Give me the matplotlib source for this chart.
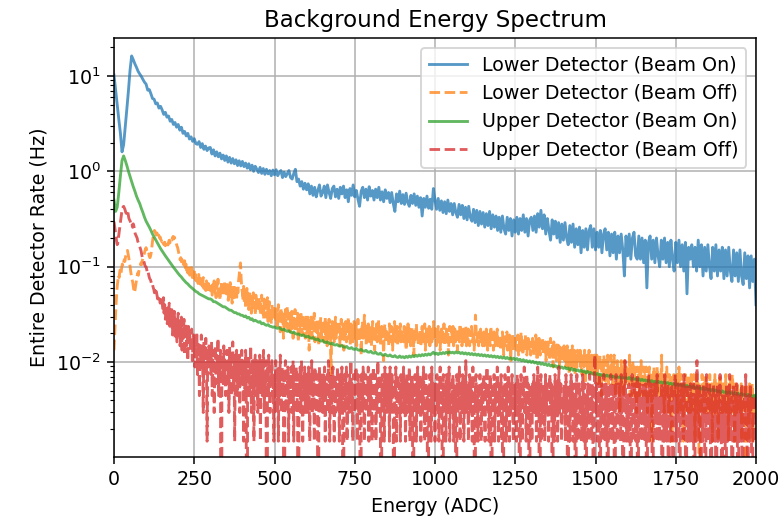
import numpy as np
import matplotlib
matplotlib.use("Agg")
import matplotlib.pyplot as plt

# Beam-on spectra are sampled every 5 ADC channels, beam-off spectra every 2
energy = np.arange(0, 2001, 5)
energy_off = np.arange(0, 2001, 2)

# Lower detector, beam on: rate in Hz
lower_on = [
    10.2, 7.1, 5.0, 3.5, 2.5, 1.6, 1.9, 2.9, 4.5, 7.0, 11.5, 16.2, 14.8, 13.4, 12.3, 11.2, 10.5, 9.9, 9.2, 8.6,
    8.2, 7.1, 7.2, 6.5, 5.8, 5.7, 5.1, 5.2, 4.6, 4.8, 4.4, 3.95, 4.15, 3.7, 3.8, 3.35, 3.5, 3.1, 3.25, 2.9,
    3.1, 2.7, 2.9, 2.5, 2.62, 2.35, 2.5, 2.18, 2.3, 2.06, 2.2, 1.95, 1.92, 2.05, 1.78, 1.95, 1.7, 1.84, 1.65, 1.76,
    1.78, 1.52, 1.68, 1.45, 1.6, 1.42, 1.55, 1.35, 1.48, 1.3, 1.45, 1.25, 1.4, 1.22, 1.36, 1.2, 1.32, 1.15, 1.29, 1.14,
    1.27, 1.12, 1.22, 1.08, 1.2, 1.04, 1.16, 1.0, 1.13, 1.05, 0.97, 1.1, 0.95, 1.07, 0.93, 1.05, 0.94, 1.02, 0.9, 1.03,
    0.92, 1.04, 0.9, 0.97, 1.02, 0.86, 0.98, 0.88, 0.95, 1.02, 0.86, 0.83, 0.95, 1.05, 0.78, 0.83, 0.7, 0.78, 0.65, 0.75,
    0.64, 0.74, 0.58, 0.7, 0.56, 0.68, 0.54, 0.63, 0.72, 0.55, 0.6, 0.7, 0.53, 0.72, 0.6, 0.52, 0.66, 0.7, 0.54, 0.65,
    0.52, 0.68, 0.58, 0.7, 0.53, 0.64, 0.48, 0.66, 0.56, 0.72, 0.54, 0.63, 0.51, 0.43, 0.62, 0.68, 0.53, 0.65, 0.5, 0.69,
    0.55, 0.63, 0.5, 0.65, 0.53, 0.68, 0.5, 0.61, 0.48, 0.64, 0.52, 0.6, 0.47, 0.6, 0.46, 0.38, 0.58, 0.48, 0.62, 0.46,
    0.57, 0.45, 0.59, 0.47, 0.43, 0.56, 0.46, 0.58, 0.44, 0.55, 0.42, 0.53, 0.34, 0.52, 0.42, 0.55, 0.41, 0.51, 0.4, 0.66,
    0.5, 0.4, 0.52, 0.39, 0.49, 0.37, 0.48, 0.36, 0.5, 0.38, 0.46, 0.35, 0.46, 0.37, 0.33, 0.45, 0.35, 0.44, 0.32, 0.42,
    0.31, 0.43, 0.33, 0.3, 0.4, 0.29, 0.39, 0.27, 0.38, 0.28, 0.37, 0.26, 0.36, 0.27, 0.38, 0.25, 0.35, 0.26, 0.34, 0.24,
    0.33, 0.23, 0.34, 0.25, 0.22, 0.33, 0.24, 0.32, 0.21, 0.31, 0.23, 0.33, 0.22, 0.32, 0.24, 0.35, 0.23, 0.32, 0.21, 0.31,
    0.33, 0.24, 0.34, 0.23, 0.36, 0.26, 0.39, 0.25, 0.35, 0.22, 0.32, 0.24, 0.19, 0.31, 0.22, 0.3, 0.2, 0.29, 0.18, 0.28,
    0.19, 0.29, 0.2, 0.17, 0.27, 0.18, 0.28, 0.16, 0.25, 0.17, 0.26, 0.14, 0.24, 0.16, 0.25, 0.15, 0.24, 0.27, 0.16, 0.25,
    0.15, 0.23, 0.16, 0.24, 0.14, 0.22, 0.25, 0.15, 0.23, 0.13, 0.22, 0.14, 0.23, 0.12, 0.21, 0.14, 0.22, 0.15, 0.08, 0.21,
    0.13, 0.22, 0.12, 0.2, 0.23, 0.13, 0.12, 0.21, 0.12, 0.2, 0.11, 0.19, 0.06, 0.18, 0.21, 0.12, 0.19, 0.11, 0.2, 0.13,
    0.1, 0.19, 0.12, 0.2, 0.11, 0.18, 0.1, 0.19, 0.12, 0.09, 0.18, 0.11, 0.19, 0.1, 0.17, 0.09, 0.18, 0.052, 0.16, 0.12,
    0.17, 0.1, 0.16, 0.09, 0.19, 0.1, 0.17, 0.08, 0.16, 0.09, 0.17, 0.1, 0.075, 0.16, 0.09, 0.17, 0.08, 0.15, 0.09, 0.16,
    0.075, 0.15, 0.08, 0.16, 0.09, 0.07, 0.15, 0.08, 0.14, 0.07, 0.15, 0.08, 0.065, 0.14, 0.075, 0.13, 0.06, 0.13, 0.07, 0.12,
    0.04,
]

# Upper detector, beam on: rate in Hz
upper_on = [
    0.5, 0.38, 0.42, 0.6, 0.9, 1.3, 1.45, 1.3, 1.15, 1.0, 0.88, 0.78, 0.69, 0.62, 0.55, 0.5, 0.46, 0.41, 0.37, 0.33,
    0.3, 0.28, 0.26, 0.24, 0.22, 0.205, 0.19, 0.178, 0.166, 0.155, 0.146, 0.138, 0.13, 0.123, 0.116, 0.11, 0.104, 0.099, 0.094, 0.089,
    0.085, 0.081, 0.078, 0.074, 0.071, 0.068, 0.066, 0.063, 0.061, 0.059, 0.057, 0.055, 0.054, 0.052, 0.051, 0.05, 0.049, 0.048, 0.047, 0.046,
    0.046, 0.045, 0.043, 0.043, 0.042, 0.041, 0.04, 0.039, 0.038, 0.038, 0.037, 0.036, 0.035, 0.035, 0.034, 0.033, 0.033, 0.032, 0.032, 0.031,
    0.031, 0.03, 0.0305, 0.029, 0.0295, 0.028, 0.0285, 0.027, 0.0275, 0.0268, 0.0262, 0.0266, 0.0252, 0.0256, 0.0248, 0.0243, 0.0247, 0.0238, 0.0236, 0.0232,
    0.0234, 0.0228, 0.0226, 0.023, 0.0222, 0.0218, 0.0221, 0.0214, 0.021, 0.0213, 0.0206, 0.0203, 0.0207, 0.0199, 0.0196, 0.0198, 0.0192, 0.019, 0.0193, 0.0186,
    0.0184, 0.0187, 0.018, 0.0178, 0.0181, 0.0174, 0.0172, 0.0175, 0.0168, 0.0166, 0.0169, 0.0162, 0.016, 0.0163, 0.0157, 0.0155, 0.0158, 0.0152, 0.0151, 0.0153,
    0.0148, 0.0147, 0.015, 0.0144, 0.0143, 0.0146, 0.014, 0.0139, 0.0142, 0.0137, 0.0136, 0.0139, 0.0134, 0.0133, 0.0136, 0.0131, 0.013, 0.0133, 0.0128, 0.0127,
    0.013, 0.0125, 0.0124, 0.0127, 0.0122, 0.0121, 0.0124, 0.0119, 0.0118, 0.0121, 0.0117, 0.0116, 0.0119, 0.0115, 0.0114, 0.0117, 0.0113, 0.0112, 0.0116, 0.0112,
    0.0114, 0.0111, 0.0115, 0.0112, 0.0116, 0.0113, 0.0117, 0.0114, 0.0118, 0.0115, 0.0119, 0.0116, 0.012, 0.0117, 0.0121, 0.0118, 0.0122, 0.0119, 0.0123, 0.0127,
    0.0121, 0.0124, 0.012, 0.0125, 0.0122, 0.0126, 0.0123, 0.0127, 0.0124, 0.0128, 0.0125, 0.0127, 0.0124, 0.0128, 0.0125, 0.0127, 0.0123, 0.0126, 0.0122, 0.0125,
    0.0121, 0.0124, 0.012, 0.0123, 0.0119, 0.0122, 0.0118, 0.0121, 0.0117, 0.012, 0.0116, 0.0119, 0.0115, 0.0118, 0.0114, 0.0117, 0.0113, 0.0116, 0.0112, 0.0115,
    0.0111, 0.0114, 0.011, 0.0113, 0.0109, 0.0112, 0.0108, 0.0111, 0.0107, 0.011, 0.0106, 0.0109, 0.0105, 0.0107, 0.0103, 0.0106, 0.0102, 0.0104, 0.01, 0.0103,
    0.0099, 0.0102, 0.0098, 0.01, 0.0096, 0.0099, 0.0095, 0.0097, 0.0094, 0.0096, 0.0092, 0.0095, 0.0091, 0.0093, 0.009, 0.0092, 0.0088, 0.0091, 0.0087, 0.0089,
    0.0086, 0.0088, 0.0085, 0.0087, 0.0083, 0.0086, 0.0082, 0.0084, 0.0081, 0.0083, 0.008, 0.0082, 0.0079, 0.0081, 0.0077, 0.008, 0.0076, 0.0078, 0.0075, 0.0077,
    0.0074, 0.0076, 0.0073, 0.0075, 0.0072, 0.0074, 0.0071, 0.0073, 0.0071, 0.0072, 0.007, 0.0071, 0.0069, 0.007, 0.0069, 0.007, 0.0068, 0.0069, 0.0068, 0.0069,
    0.0067, 0.0069, 0.0066, 0.0068, 0.0066, 0.0067, 0.0065, 0.0067, 0.0064, 0.0066, 0.0064, 0.0065, 0.0063, 0.0065, 0.0062, 0.0064, 0.0062, 0.0063, 0.0061, 0.0063,
    0.0061, 0.0062, 0.006, 0.0062, 0.006, 0.0061, 0.0059, 0.006, 0.0058, 0.006, 0.0057, 0.0059, 0.0057, 0.0058, 0.0056, 0.0058, 0.0055, 0.0057, 0.0055, 0.0056,
    0.0054, 0.0056, 0.0053, 0.0055, 0.0053, 0.0054, 0.0052, 0.0054, 0.0051, 0.0053, 0.0051, 0.0052, 0.005, 0.0052, 0.005, 0.0051, 0.0049, 0.005, 0.0048, 0.005,
    0.0048, 0.0049, 0.0047, 0.0049, 0.0047, 0.0048, 0.0046, 0.0048, 0.0046, 0.0047, 0.0045, 0.0047, 0.0045, 0.0046, 0.0044, 0.0046, 0.0044, 0.0045, 0.0043, 0.0045,
    0.0043,
]

# Beam-off runs are stored as raw counts per channel
beam_off_livetime = 675.0  # seconds

lower_off_counts = [
    9, 13, 18, 26, 34, 42, 48, 55, 52, 60, 64, 58, 66, 72, 68, 75, 80, 77, 86, 90, 97, 100, 92, 84, 76,
    68, 60, 55, 50, 47, 42, 38, 36, 40, 45, 50, 54, 58, 55, 62, 66, 70, 74, 71, 78, 82, 88, 92, 98, 104,
    107, 100, 96, 90, 92, 87, 84, 88, 95, 110, 125, 140, 155, 162, 158, 150, 145, 152, 140, 148, 142, 135, 138, 130, 126,
    122, 128, 118, 115, 122, 112, 118, 125, 120, 114, 122, 128, 120, 126, 132, 128, 135, 140, 132, 138, 130, 125, 118, 112, 108,
    100, 92, 86, 80, 84, 76, 80, 72, 75, 70, 78, 66, 72, 62, 68, 58, 64, 70, 55, 62, 58, 66, 52, 60, 56,
    62, 50, 58, 48, 55, 52, 45, 56, 48, 53, 44, 50, 46, 42, 52, 40, 47, 44, 38, 48, 42, 36, 45, 40, 43,
    38, 46, 40, 34, 44, 38, 48, 36, 42, 32, 45, 39, 50, 35, 42, 30, 40, 46, 36, 43, 33, 40, 48, 37, 42,
    35, 44, 38, 30, 42, 36, 46, 33, 40, 28, 44, 37, 32, 41, 35, 39, 30, 43, 36, 48, 55, 66, 74, 52, 40,
    36, 30, 42, 28, 38, 25, 35, 40, 27, 33, 24, 38, 30, 35, 22, 32, 28, 36, 25, 31, 21, 34, 27, 30, 23,
    33, 26, 30, 21, 28, 34, 22, 27, 19, 31, 24, 28, 20, 26, 32, 18, 25, 29, 21, 24, 17, 27, 22, 19, 25,
    21, 26, 18, 24, 15, 22, 27, 19, 23, 14, 25, 20, 17, 23, 12, 21, 18, 24, 16, 20, 26, 15, 19, 22, 14,
    20, 15, 23, 18, 12, 21, 17, 24, 14, 19, 16, 22, 11, 18, 20, 14, 23, 16, 13, 19, 21, 15, 18, 12, 20,
    17, 13, 20, 15, 9, 18, 14, 21, 16, 12, 19, 15, 22, 11, 17, 14, 19, 13, 16, 10, 18, 15, 20, 12, 16,
    14, 18, 11, 16, 20, 13, 15, 10, 17, 14, 19, 12, 16, 5, 15, 18, 13, 17, 11, 15, 20, 12, 16, 14, 18,
    13, 16, 10, 15, 19, 12, 14, 17, 9, 15, 13, 18, 11, 16, 14, 20, 12, 15, 10, 17, 13, 16, 11, 14, 18,
    12, 15, 17, 10, 14, 19, 13, 11, 16, 14, 8, 15, 18, 12, 14, 21, 13, 16, 10, 15, 12, 17, 14, 11, 16,
    13, 10, 15, 18, 12, 14, 9, 16, 13, 17, 11, 14, 19, 12, 15, 10, 13, 16, 12, 14, 7, 15, 17, 11, 13,
    15, 12, 14, 10, 17, 13, 11, 16, 14, 9, 15, 12, 18, 13, 11, 14, 16, 10, 13, 15, 12, 17, 11, 14, 12,
    13, 11, 16, 12, 14, 9, 15, 13, 17, 11, 12, 15, 10, 14, 16, 12, 13, 8, 15, 11, 14, 17, 12, 13, 10,
    14, 12, 15, 10, 13, 16, 11, 14, 12, 17, 9, 13, 15, 11, 14, 12, 16, 10, 13, 15, 11, 14, 12, 18, 13,
    12, 15, 10, 13, 11, 16, 12, 14, 9, 13, 15, 11, 14, 12, 17, 10, 13, 12, 15, 11, 14, 8, 13, 16, 12,
    11, 14, 12, 16, 10, 13, 15, 11, 14, 12, 9, 15, 13, 11, 17, 12, 14, 10, 13, 15, 11, 14, 12, 16, 10,
    13, 11, 15, 12, 10, 14, 13, 16, 11, 12, 14, 9, 13, 21, 15, 11, 13, 12, 10, 14, 12, 15, 11, 13, 10,
    12, 14, 10, 13, 11, 15, 12, 9, 14, 11, 13, 10, 16, 12, 11, 13, 9, 14, 12, 10, 13, 11, 15, 10, 12,
    11, 13, 9, 12, 10, 14, 11, 8, 13, 10, 12, 11, 14, 9, 12, 10, 13, 11, 7, 12, 10, 13, 9, 11, 12,
    10, 12, 9, 11, 13, 8, 10, 12, 9, 14, 10, 11, 8, 12, 10, 9, 13, 11, 8, 10, 12, 9, 11, 10, 8,
    11, 9, 12, 10, 8, 11, 9, 13, 10, 7, 11, 9, 12, 10, 8, 11, 9, 10, 12, 8, 10, 9, 11, 7, 10,
    9, 11, 8, 10, 7, 12, 9, 8, 10, 6, 11, 9, 8, 10, 7, 9, 11, 8, 10, 6, 9, 8, 10, 7, 9,
    8, 10, 7, 9, 6, 8, 10, 7, 9, 5, 8, 7, 9, 6, 10, 8, 7, 9, 5, 8, 7, 6, 9, 7, 8,
    7, 9, 6, 8, 5, 7, 8, 6, 9, 4, 7, 6, 8, 5, 7, 9, 6, 7, 5, 8, 6, 7, 5, 8, 6,
    7, 5, 8, 6, 4, 7, 6, 8, 5, 3, 7, 6, 5, 8, 6, 4, 7, 5, 6, 8, 4, 6, 5, 7, 8,
    5, 7, 4, 6, 8, 5, 3, 6, 5, 7, 4, 6, 5, 2, 6, 7, 4, 5, 6, 3, 7, 5, 4, 6, 5,
    4, 6, 5, 8, 3, 5, 6, 4, 7, 5, 3, 6, 4, 5, 2, 6, 4, 5, 3, 6, 4, 7, 5, 3, 5,
    6, 4, 5, 3, 6, 4, 2, 5, 4, 6, 3, 5, 4, 1, 5, 3, 6, 4, 5, 3, 4, 6, 3, 5, 4,
    3, 5, 4, 8, 3, 5, 4, 2, 5, 3, 4, 6, 3, 4, 2, 5, 4, 3, 5, 1, 4, 3, 5, 4, 3,
    4, 3, 5, 2, 4, 6, 3, 4, 2, 5, 3, 4, 1, 4, 3, 5, 2, 4, 3, 5, 2, 3, 4, 2, 5,
    3, 4, 2, 5, 3, 1, 4, 3, 5, 2, 4, 3, 0, 4, 3, 2, 5, 3, 4, 2, 3, 5, 2, 4, 3,
    2, 4, 3, 5, 2, 3, 4, 1, 3, 4, 2, 5, 3, 2, 4, 3, 1, 4, 3, 5, 2, 3, 4, 2, 3,
    4, 2, 3, 5, 2, 4, 3, 1, 3, 4, 2, 5, 3, 5, 4, 2, 3, 1, 4, 3, 2, 4, 3, 2, 3,
    3, 2, 4, 1, 3, 2, 4, 3, 2, 0, 3, 4, 2, 3, 1, 4, 2, 3, 2, 4, 1, 3, 2, 3, 2,
    3,
]

upper_off_counts = [
    200, 180, 160, 140, 125, 115, 120, 135, 155, 175, 200, 225, 250, 270, 285, 290, 280, 270, 255, 245, 260, 265, 240, 220, 210,
    205, 195, 180, 185, 175, 190, 180, 160, 150, 145, 140, 135, 125, 120, 112, 110, 105, 100, 92, 85, 82, 78, 75, 70, 68,
    67, 63, 58, 60, 56, 52, 50, 49, 46, 43, 44, 41, 39, 36, 38, 35, 37, 34, 31, 33, 30, 31, 28, 33, 30,
    29, 24, 32, 22, 27, 19, 26, 23, 17, 25, 20, 28, 16, 22, 18, 24, 13, 21, 16, 23, 12, 19, 15, 11, 18,
    22, 14, 18, 10, 16, 20, 9, 15, 12, 19, 8, 14, 17, 10, 13, 7, 16, 11, 14, 9, 12, 15, 7, 11, 13,
    10, 6, 12, 8, 14, 5, 9, 11, 3, 10, 7, 13, 6, 8, 2, 11, 9, 5, 12, 7, 1, 9, 6, 10, 8,
    8, 5, 11, 3, 7, 9, 2, 6, 10, 4, 8, 6, 12, 3, 7, 5, 9, 0, 6, 8, 4, 10, 5, 7, 3,
    6, 9, 4, 7, 2, 10, 5, 8, 3, 6, 11, 4, 7, 1, 8, 5, 9, 3, 6, 4, 8, 2, 7, 5, 9,
    4, 7, 1, 6, 3, 9, 5, 0, 7, 4, 8, 3, 6, 10, 2, 5, 7, 4, 1, 6, 8, 3, 5, 7, 2,
    6, 4, 8, 1, 5, 7, 3, 6, 9, 2, 5, 4, 7, 0, 6, 3, 8, 5, 2, 6, 4, 7, 3, 5, 1,
    5, 3, 7, 2, 4, 6, 1, 5, 3, 8, 4, 2, 6, 3, 5, 0, 4, 7, 2, 5, 3, 6, 1, 4, 5,
    3, 6, 2, 4, 7, 1, 5, 3, 4, 6, 2, 5, 0, 4, 3, 6, 2, 7, 4, 1, 5, 3, 6, 2, 4,
    5, 2, 4, 6, 3, 1, 5, 4, 7, 2, 3, 5, 1, 6, 4, 2, 5, 3, 0, 4, 6, 2, 5, 3, 4,
    2, 5, 3, 6, 1, 4, 3, 5, 2, 7, 4, 1, 3, 5, 2, 4, 6, 3, 1, 5, 2, 4, 3, 6, 2,
    4, 1, 5, 3, 2, 6, 4, 0, 3, 5, 2, 4, 6, 1, 3, 4, 2, 5, 3, 7, 2, 4, 1, 5, 3,
    2, 4, 6, 3, 1, 5, 2, 4, 3, 0, 5, 3, 2, 6, 4, 1, 3, 5, 2, 4, 3, 6, 1, 4, 2,
    5, 3, 1, 4, 6, 2, 3, 5, 1, 4, 2, 7, 3, 2, 5, 4, 0, 3, 5, 2, 4, 1, 6, 3, 4,
    2, 5, 3, 4, 1, 6, 2, 3, 5, 4, 2, 0, 4, 3, 6, 1, 3, 5, 2, 4, 3, 1, 5, 2, 4,
    3, 6, 2, 4, 1, 3, 5, 2, 4, 3, 6, 1, 4, 2, 5, 3, 0, 4, 2, 5, 3, 1, 4, 6, 2,
    4, 2, 5, 1, 3, 4, 2, 6, 3, 1, 4, 5, 2, 3, 0, 4, 2, 5, 3, 1, 6, 3, 2, 4, 3,
    1, 4, 3, 5, 2, 4, 1, 3, 6, 2, 4, 3, 0, 5, 2, 3, 4, 1, 5, 3, 2, 4, 6, 1, 3,
    4, 2, 3, 5, 1, 4, 2, 3, 0, 5, 3, 2, 4, 6, 1, 3, 4, 2, 5, 3, 1, 4, 2, 7, 3,
    2, 4, 1, 3, 5, 2, 4, 3, 1, 6, 2, 3, 0, 4, 5, 2, 3, 1, 4, 2, 5, 3, 1, 4, 2,
    3, 5, 2, 1, 4, 3, 6, 2, 4, 1, 3, 5, 2, 0, 4, 3, 2, 5, 1, 3, 4, 2, 6, 3, 1,
    4, 2, 3, 5, 1, 3, 0, 4, 2, 5, 3, 1, 4, 2, 6, 3, 1, 4, 2, 3, 5, 2, 1, 4, 3,
    2, 4, 1, 5, 3, 2, 4, 0, 3, 5, 2, 1, 4, 3, 6, 2, 3, 1, 5, 2, 4, 3, 0, 4, 2,
    3, 1, 4, 2, 5, 3, 2, 4, 1, 3, 6, 2, 4, 0, 3, 5, 1, 3, 2, 4, 3, 1, 5, 2, 3,
    4, 2, 1, 3, 5, 2, 4, 3, 0, 2, 4, 1, 5, 3, 2, 4, 1, 3, 6, 2, 3, 4, 1, 2, 3,
    2, 4, 3, 1, 5, 2, 3, 0, 4, 2, 1, 3, 5, 2, 4, 1, 3, 2, 4, 0, 3, 5, 2, 1, 3,
    4, 2, 3, 1, 2, 5, 3, 1, 4, 2, 0, 3, 2, 4, 1, 3, 5, 2, 3, 1, 4, 2, 0, 3, 8,
    3, 2, 4, 1, 3, 2, 5, 0, 3, 2, 4, 1, 3, 5, 2, 1, 4, 3, 2, 0, 4, 2, 3, 1, 5,
    2, 3, 1, 4, 2, 0, 3, 5, 2, 1, 3, 4, 2, 3, 1, 5, 2, 3, 0, 4, 2, 7, 3, 1, 2,
    3, 1, 4, 2, 3, 0, 2, 5, 3, 1, 2, 4, 3, 1, 2, 5, 0, 3, 2, 4, 1, 3, 2, 1, 4,
    2, 3, 1, 4, 2, 0, 3, 2, 5, 1, 3, 2, 4, 1, 0, 3, 2, 4, 1, 3, 2, 5, 1, 2, 3,
    1, 3, 2, 4, 0, 2, 3, 1, 5, 2, 3, 1, 2, 4, 0, 3, 2, 1, 3, 4, 2, 0, 3, 2, 5,
    2, 1, 3, 2, 4, 1, 0, 3, 2, 4, 1, 3, 2, 5, 1, 2, 0, 3, 4, 1, 2, 3, 1, 4, 2,
    3, 1, 2, 4, 0, 2, 3, 1, 7, 2, 3, 1, 4, 2, 0, 3, 2, 1, 4, 2, 3, 0, 2, 5, 1,
    2, 3, 1, 4, 2, 0, 3, 1, 2, 4, 2, 1, 3, 0, 2, 4, 1, 3, 2, 5, 1, 2, 0, 3, 2,
    1, 3, 2, 0, 4, 2, 1, 3, 2, 5, 1, 2, 3, 0, 2, 4, 1, 3, 2, 1, 4, 2, 0, 3, 1,
    2, 3, 1, 4, 0, 2, 1, 3, 2, 5, 1, 2, 0, 3, 2, 1, 4, 2, 3, 0, 2, 1, 3, 2, 1,
    2,
]

for name, x, series in [("lower_on", energy, lower_on), ("upper_on", energy, upper_on),
                        ("lower_off_counts", energy_off, lower_off_counts),
                        ("upper_off_counts", energy_off, upper_off_counts)]:
    assert len(series) == len(x), (name, len(series), len(x))

lower_off = np.array(lower_off_counts) / beam_off_livetime
upper_off = np.array(upper_off_counts) / beam_off_livetime

fig = plt.figure(figsize=(781 / 137, 517 / 137), dpi=137)
ax = fig.add_axes([114 / 781, 1 - 456.7 / 517, (756 - 114) / 781, (456.7 - 38.3) / 517])

ax.plot(energy, lower_on, color="tab:blue", alpha=0.75, label="Lower Detector (Beam On)")
ax.plot(energy_off, lower_off, color="tab:orange", alpha=0.75, linestyle="--", label="Lower Detector (Beam Off)")
ax.plot(energy, upper_on, color="tab:green", alpha=0.75, label="Upper Detector (Beam On)")
ax.plot(energy_off, upper_off, color="tab:red", alpha=0.75, linestyle="--", label="Upper Detector (Beam Off)")

ax.set_yscale("log")
ax.set_xlim(0, 2000)
ax.set_ylim(1.02e-3, 24.8)
ax.set_xticks(np.arange(0, 2001, 250))
ax.grid(True)
ax.set_title("Background Energy Spectrum")
ax.set_xlabel("Energy (ADC)")
ax.set_ylabel("Entire Detector Rate (Hz)")
ax.legend(loc="upper right")

fig.savefig("out.png", dpi=137)
